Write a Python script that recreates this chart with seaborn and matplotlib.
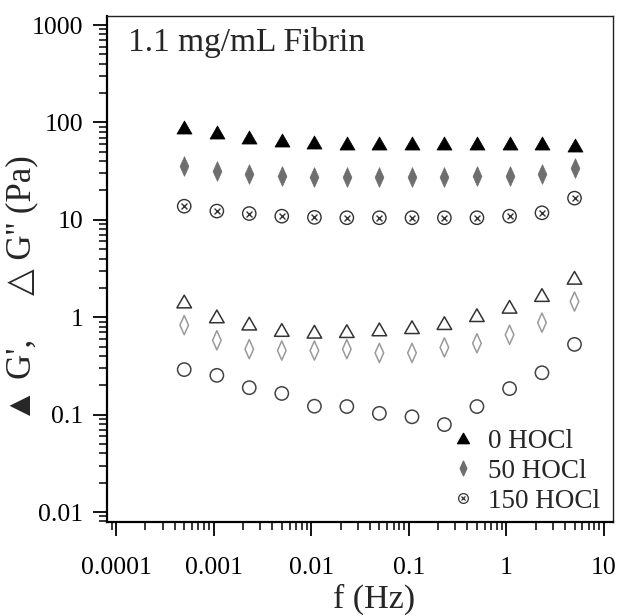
import numpy as np
import pandas as pd
import matplotlib
matplotlib.use("Agg")
from matplotlib import pyplot as plt
from matplotlib.lines import Line2D
from matplotlib.path import Path
from matplotlib.ticker import LogLocator, NullFormatter
import seaborn as sns

# frequency sweep (Hz)
freq = [0.0005, 0.00108, 0.00232, 0.005, 0.0108, 0.0232, 0.05, 0.108, 0.232, 0.5, 1.08, 2.32, 5.0]

# storage modulus G' (Pa)
gp_0 = [89, 79, 71, 66, 63, 62, 61, 61, 61, 61, 61, 61, 59]
gp_50 = [35.5, 31.5, 29.5, 28.4, 27.8, 27.6, 27.6, 27.6, 27.8, 28, 28.4, 29.7, 34]
gp_150 = [13.8, 12.3, 11.6, 10.9, 10.6, 10.5, 10.5, 10.5, 10.5, 10.5, 10.9, 11.8, 16.7]

# loss modulus G'' (Pa)
gpp_0 = [1.45, 1.02, 0.86, 0.74, 0.71, 0.72, 0.75, 0.79, 0.87, 1.05, 1.28, 1.69, 2.54]
gpp_50 = [0.83, 0.58, 0.47, 0.455, 0.455, 0.47, 0.43, 0.43, 0.49, 0.54, 0.66, 0.88, 1.45]
gpp_150 = [0.29, 0.253, 0.189, 0.165, 0.122, 0.121, 0.103, 0.095, 0.079, 0.121, 0.185, 0.269, 0.526]

legend_labels = ["0 HOCl", "50 HOCl", "150 HOCl"]

df = pd.DataFrame({"f": freq, "gp0": gp_0, "gp50": gp_50, "gp150": gp_150,
                   "gpp0": gpp_0, "gpp50": gpp_50, "gpp150": gpp_150})

sns.set_style("ticks")
plt.rcParams['font.family'] = ['Liberation Serif', 'DejaVu Sans']

# closed marker paths (so open symbols get all their edges)
tri_v = [(0, 0.87), (-1, -0.87), (1, -0.87)]
dia_v = [(0, 1), (0.45, 0), (0, -1), (-0.45, 0)]
tri = Path(tri_v + [tri_v[0]], closed=True)
dia = Path(dia_v + [dia_v[0]], closed=True)

fig = plt.figure(figsize=(6.18, 6.16), dpi=100)
ax = fig.add_axes([0.1731, 0.1526, 0.8188, 0.8214])

# G' filled symbols
sns.scatterplot(data=df, x="f", y="gp0", ax=ax, marker=tri, s=117, color="black",
                edgecolor="black", linewidth=0.5, zorder=3)
sns.scatterplot(data=df, x="f", y="gp50", ax=ax, marker=dia, s=200, color="#6e6e6e",
                edgecolor="#6e6e6e", linewidth=0.5, zorder=3)
sns.scatterplot(data=df, x="f", y="gp150", ax=ax, marker="o", s=92, color="#333333",
                facecolor="none", edgecolor="#333333", linewidth=1.0, zorder=3)
sns.scatterplot(data=df, x="f", y="gp150", ax=ax, marker="x", s=18, color="#333333",
                linewidth=1.0, zorder=3)

# G'' open symbols
sns.scatterplot(data=df, x="f", y="gpp0", ax=ax, marker=tri, s=110, color="#333333",
                facecolor="none", edgecolor="#333333", linewidth=1.1, zorder=3)
sns.scatterplot(data=df, x="f", y="gpp50", ax=ax, marker=dia, s=190, color="#9a9a9a",
                facecolor="none", edgecolor="#9a9a9a", linewidth=1.1, zorder=3)
sns.scatterplot(data=df, x="f", y="gpp150", ax=ax, marker="o", s=92, color="#444444",
                facecolor="none", edgecolor="#444444", linewidth=1.1, zorder=3)

ax.set_xscale("log")
ax.set_yscale("log")

ax.xaxis.set_minor_locator(LogLocator(base=10, subs=np.arange(2, 10), numticks=20))
ax.yaxis.set_minor_locator(LogLocator(base=10, subs=np.arange(2, 10), numticks=20))
ax.xaxis.set_minor_formatter(NullFormatter())
ax.yaxis.set_minor_formatter(NullFormatter())
ax.set_xticks([0.0001, 0.001, 0.01, 0.1, 1, 10])
ax.set_xticklabels(["0.0001", "0.001", "0.01", "0.1", "1", "10"])
ax.set_yticks([0.01, 0.1, 1, 10, 100, 1000])
ax.set_yticklabels(["0.01", "0.1", "1", "10", "100", "1000"])
ax.set_xlim(8.08e-5, 12.4)
ax.set_ylim(0.0079, 1237)

ax.tick_params(which="major", length=10, width=1.3, labelsize=18.5, color="black",
               labelcolor="black")
ax.tick_params(axis="y", which="major", pad=7)
ax.tick_params(axis="x", which="major", pad=15)
ax.tick_params(which="minor", length=5.5, width=1.1, color="black")
for side in ["left", "bottom"]:
    ax.spines[side].set_linewidth(1.6)
    ax.spines[side].set_color("black")
for side in ["top", "right"]:
    ax.spines[side].set_visible(True)
    ax.spines[side].set_linewidth(1.0)
    ax.spines[side].set_color("#222222")

ax.set_xlabel("f (Hz)", fontsize=24.5)
ax.set_ylabel("\u25B2 G',     \u25B3 G'' (Pa)", fontsize=25)
ax.xaxis.set_label_coords(0.528, -0.122)
ax.yaxis.set_label_coords(-0.135, 0.462)

ax.text(0.0415, 0.978, "1.1 mg/mL Fibrin", transform=ax.transAxes, fontsize=24,
        ha="left", va="top")

h0 = Line2D([], [], ls="none", marker=tri, ms=8.5, color="black")
h50 = Line2D([], [], ls="none", marker=dia, ms=10.5, color="#6e6e6e")
h150 = (Line2D([], [], ls="none", marker="o", ms=7, mfc="none", mec="#333333", mew=0.9),
        Line2D([], [], ls="none", marker="x", ms=3.4, color="#333333", mew=0.9))
ax.legend([h0, h50, h150], legend_labels, loc="lower right", frameon=False,
          bbox_to_anchor=(1.002, -0.01),
          fontsize=19.5, handlelength=1.0, handletextpad=0.45, labelspacing=0.18,
          borderaxespad=0.1)

fig.savefig("out.png", dpi=100)
